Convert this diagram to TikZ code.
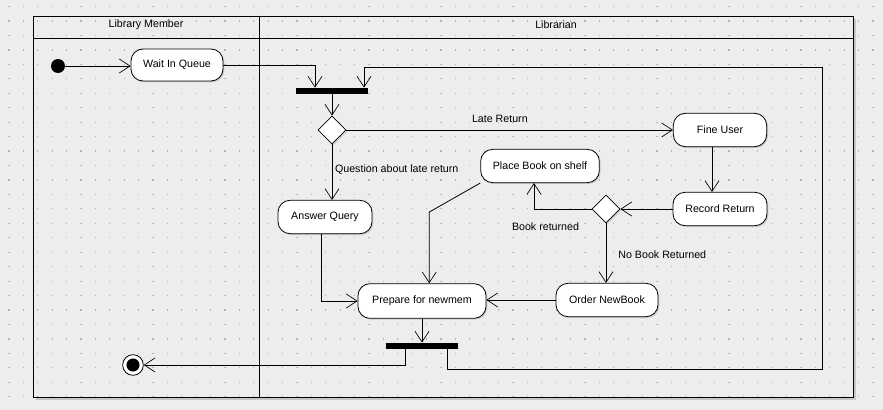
\documentclass[tikz,border=0pt]{standalone}
\usepackage{fontspec}
\setmainfont{Liberation Sans}
\usetikzlibrary{arrows.meta,shapes.geometric,shadows}
\definecolor{canvas}{RGB}{237,237,237}
\definecolor{griddot}{RGB}{180,180,180}

\begin{document}
\begin{tikzpicture}[x=0.75pt, y=-0.75pt, line width=0.6pt,
	every node/.style={font=\fontsize{8}{9.6}\selectfont},
	>={Straight Barb[length=8pt, width=10.5pt, line width=0.5pt]},
	act/.style={draw, fill=white, rounded corners=9pt, inner sep=0pt, drop shadow={shadow xshift=1pt, shadow yshift=-1pt, fill=black!45, opacity=.35}},
	choice/.style={diamond, draw, fill=white, inner sep=0pt, minimum size=21pt, drop shadow={shadow xshift=1pt, shadow yshift=-1pt, fill=black!45, opacity=.35}},
	bar/.style={fill=black, inner sep=0pt, minimum width=54pt, minimum height=4.5pt},
	final/.style={circle, draw, fill=white, minimum size=15.5pt, inner sep=0pt, path picture={\fill[black] (path picture bounding box.center) circle (4.9pt);}},
	guard/.style={inner sep=2pt}]
	% canvas, grid and swimlanes
	\fill[canvas] (0,0) rectangle (883,410);
	\useasboundingbox (0,0) rectangle (883,410);
	\fill[black!22] (36,19) rectangle (856,400);
	\fill[canvas] (33,16) rectangle (853,397);
	\foreach \i in {0,...,60} {\foreach \j in {0,...,27} {
		\fill[griddot] (8.3+14.4*\i,6+14.45*\j) rectangle ++(1.2,1.2);
	}}
	\draw (33,16) rectangle (853,397);
	\draw (33,38) -- (853,38);
	\draw (259,16) -- (259,397);
	\node (memberhead) at (146,25) {Library Member};
	\node (librarianhead) at (556,25) {Librarian};
	% activities
	\node[circle, fill=black, minimum size=10.5pt, inner sep=0pt] (start) at (58,66) {};
	\node[act, minimum width=69pt, minimum height=24pt] (wait) at (177,65) {Wait In Queue};
	\node[bar] (fork) at (332,91) {};
	\node[choice] (dec1) at (332,130) {};
	\node[act, minimum width=70pt, minimum height=25pt] (fine) at (720,130) {Fine User};
	\node[act, minimum width=70.5pt, minimum height=25pt] (record) at (720,209) {Record Return};
	\node[choice] (dec2) at (606,209) {};
	\node[act, minimum width=89pt, minimum height=25pt] (place) at (540,166) {Place Book on shelf};
	\node[act, minimum width=70.5pt, minimum height=25pt] (answer) at (325,217) {Answer Query};
	\node[act, minimum width=96pt, minimum height=26pt] (prepare) at (422,301) {Prepare for newmem};
	\node[act, minimum width=76.5pt, minimum height=25pt] (order) at (607,300) {Order NewBook};
	\node[bar] (join) at (422,346) {};
	\node[final] (final) at (133,365) {};
	\coordinate (loopbr) at (822,369);
	\coordinate (looptr) at (822,67);
	% flows
	\draw[->] (start) -- (start -| wait.west);
	\draw[->] (wait.east) -| ([xshift=-12.75pt]fork.north);
	\draw[->] (fork) -- (dec1);
	\draw[->] (dec1) -- node[above=3pt, guard, pos=0.47] {Late Return} (fine);
	\draw[->] (dec1.south) -- node[right, guard, pos=0.45] {Question about late return} (dec1.south |- answer.north);
	\draw[->] ([xshift=-6pt]fine.south) -- ([xshift=-6pt]record.north);
	\draw[->] (record) -- (dec2);
	\draw[->] (dec2) -| node[below=8pt, guard, pos=0.4] {Book returned} ([xshift=-4.5pt]place.south);
	\draw[->] (dec2) -- node[right=7pt, guard, pos=0.52] {No Book Returned} (dec2 |- order.north);
	\draw[->] ([xshift=-2.5pt]answer.south) |- (prepare.west);
	\draw[->] (place.south west) -- ++(-51,29) coordinate (bend) -- (bend |- prepare.north);
	\draw[->] (order.west) -- (order.west -| prepare.east);
	\draw[->] (prepare) -- (join);
	\draw[->] ([xshift=-12.75pt]join.south) |- (final);
	\draw[->] ([xshift=18.75pt]join.south) |- (loopbr) -- (looptr) -| ([xshift=24pt]fork.north);
\end{tikzpicture}
\end{document}
